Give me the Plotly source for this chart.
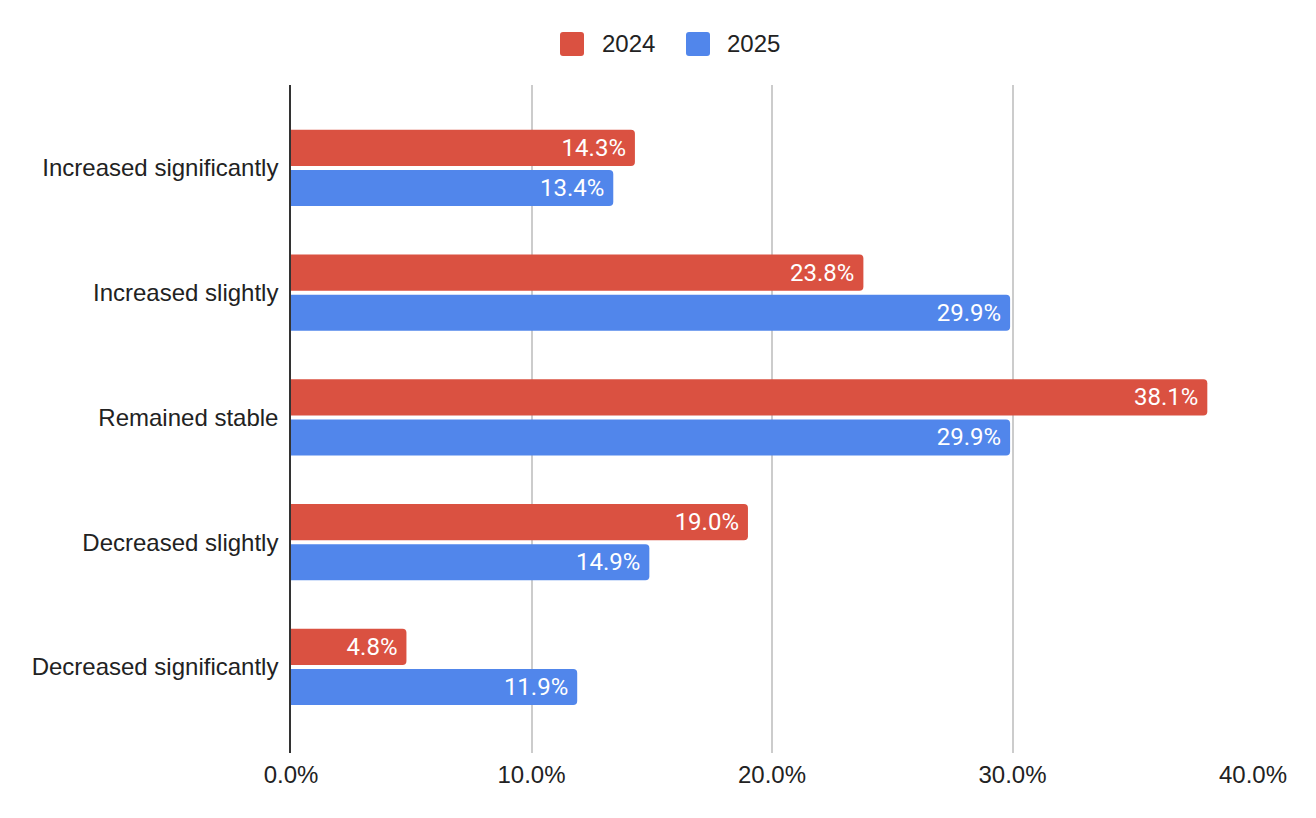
import plotly.graph_objects as go

categories = ["Increased significantly", "Increased slightly", "Remained stable",
              "Decreased slightly", "Decreased significantly"]
values_2024 = [14.3, 23.8, 38.1, 19.0, 4.8]
values_2025 = [13.4, 29.9, 29.9, 14.9, 11.9]
series_names = ["2024", "2025"]
x_ticks = [0, 10, 20, 30, 40]
x_tick_labels = ["0.0%", "10.0%", "20.0%", "30.0%", "40.0%"]

RED = "#da5141"
BLUE = "#5186eb"
colors = [RED, BLUE]

W, H = 1300, 802
ML, MR, MT, MB = 283, 55, 77, 57
PW, PH = W - ML - MR, H - MT - MB
OFF = 8  # page body margin


def px2paper_x(px):
    return (px - OFF - ML) / PW


def px2paper_y(py):
    return 1 - (py - OFF - MT) / PH


def rounded_square(x0, y0, size, r):
    # pixel coords -> paper path with rounded corners
    X = px2paper_x
    Y = px2paper_y
    x1, y1 = x0 + size, y0 + size
    return (f"M {X(x0 + r)} {Y(y0)} L {X(x1 - r)} {Y(y0)} "
            f"Q {X(x1)} {Y(y0)} {X(x1)} {Y(y0 + r)} L {X(x1)} {Y(y1 - r)} "
            f"Q {X(x1)} {Y(y1)} {X(x1 - r)} {Y(y1)} L {X(x0 + r)} {Y(y1)} "
            f"Q {X(x0)} {Y(y1)} {X(x0)} {Y(y1 - r)} L {X(x0)} {Y(y0 + r)} "
            f"Q {X(x0)} {Y(y0)} {X(x0 + r)} {Y(y0)} Z")


fig = go.Figure()
for name, vals, col in zip(series_names, [values_2024, values_2025], colors):
    fig.add_trace(go.Bar(
        name=name, y=categories, x=vals, orientation="h",
        marker=dict(color=col, line=dict(width=0)),
        text=[f"{v:.1f}%\u00a0" for v in vals],
        textposition="inside", insidetextanchor="end",
        textfont=dict(family="Roboto", size=24, color="white"),
        showlegend=False,
    ))

# custom legend (rounded squares + labels)
legend_items = [(560, 600), (686, 725)]
for (sx, tx), name, col in zip(legend_items, series_names, colors):
    fig.add_shape(type="path", xref="paper", yref="paper",
                  path=rounded_square(sx, 32, 24, 3),
                  fillcolor=col, line=dict(width=0), layer="above")
    fig.add_annotation(xref="paper", yref="paper", x=px2paper_x(tx), y=px2paper_y(44),
                       text=name, showarrow=False, xanchor="left", yanchor="middle",
                       font=dict(family="Liberation Sans, Arial, sans-serif", size=24,
                                 color="#222222"))

fig.update_layout(
    width=W, height=H,
    margin=dict(l=ML, r=MR, t=MT, b=MB),
    paper_bgcolor="white", plot_bgcolor="white",
    barmode="group", bargap=0.357, bargroupgap=0.1,
    barcornerradius=4,
    font=dict(family="Liberation Sans, Arial, sans-serif", size=24, color="#222222"),
    showlegend=False,
)
fig.update_xaxes(range=[0, 40], tickvals=x_ticks, ticktext=x_tick_labels,
                 showgrid=True, gridcolor="#cccccc", gridwidth=1.5,
                 zeroline=False, showline=False, ticks="",
                 ticklabelstandoff=5, tickfont=dict(size=24, color="#222222"))
fig.update_yaxes(categoryorder="array", categoryarray=categories,
                 autorange=False, range=[4.69, -0.665],
                 showline=True, linecolor="#333333", linewidth=1.5,
                 showgrid=False, ticks="", ticklabelstandoff=6,
                 tickfont=dict(size=24, color="#222222"))

fig.write_html("out.html")
